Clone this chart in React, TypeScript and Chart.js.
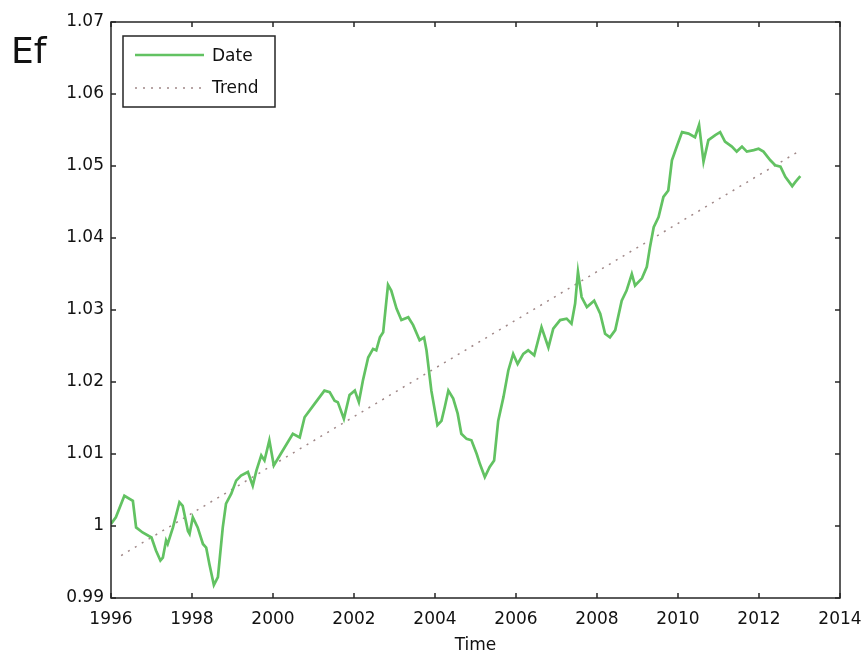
import React, { useEffect, useRef } from "react";
import { Chart, registerables } from "chart.js";

Chart.register(...registerables);

const dateX = [
  1996.0, 1996.12, 1996.33, 1996.54, 1996.62, 1996.78, 1997.0, 1997.11, 1997.22, 1997.28, 1997.36, 1997.4,
  1997.53, 1997.69, 1997.77, 1997.9, 1997.94, 1998.02, 1998.14, 1998.27, 1998.35, 1998.43, 1998.54, 1998.64,
  1998.76, 1998.84, 1998.97, 1999.09, 1999.21, 1999.38, 1999.5, 1999.59, 1999.71, 1999.79, 1999.91, 2000.02,
  2000.2, 2000.49, 2000.66, 2000.78, 2001.03, 2001.27, 2001.4, 2001.52, 2001.6, 2001.75, 2001.89, 2002.02,
  2002.12, 2002.22, 2002.35, 2002.47, 2002.55, 2002.64, 2002.72, 2002.84, 2002.92, 2003.05, 2003.17, 2003.34,
  2003.46, 2003.62, 2003.73, 2003.79, 2003.91, 2004.06, 2004.16, 2004.24, 2004.33, 2004.45, 2004.56, 2004.65,
  2004.78, 2004.9, 2005.03, 2005.11, 2005.23, 2005.35, 2005.46, 2005.56, 2005.69, 2005.81, 2005.93, 2006.04,
  2006.18, 2006.3, 2006.45, 2006.63, 2006.8, 2006.92, 2007.09, 2007.25, 2007.37, 2007.46, 2007.53, 2007.62,
  2007.75, 2007.93, 2008.08, 2008.2, 2008.32, 2008.45, 2008.61, 2008.73, 2008.86, 2008.94, 2009.11, 2009.23,
  2009.31, 2009.4, 2009.52, 2009.64, 2009.76, 2009.85, 2009.97, 2010.1, 2010.26, 2010.42, 2010.52, 2010.63,
  2010.75, 2010.92, 2011.04, 2011.16, 2011.33, 2011.45, 2011.58, 2011.7, 2011.87, 2011.99, 2012.11, 2012.28,
  2012.4, 2012.53, 2012.65, 2012.82, 2012.9, 2013.02,
];
const dateY = [
  1.0003, 1.0012, 1.0042, 1.0035, 0.9998, 0.9991, 0.9984, 0.9966, 0.9952, 0.9956, 0.998, 0.9975,
  0.9998, 1.0033, 1.0028, 0.9993, 0.9989, 1.0012, 0.9998, 0.9975, 0.997, 0.9947, 0.9918, 0.9929,
  0.9998, 1.0031, 1.0045, 1.0063, 1.007, 1.0075, 1.0056, 1.0077, 1.0098, 1.0091, 1.0119, 1.0084,
  1.0101, 1.0128, 1.0123, 1.0151, 1.017, 1.0188, 1.0186, 1.0174, 1.0172, 1.0149, 1.0182, 1.0188,
  1.0172, 1.0202, 1.0234, 1.0246, 1.0244, 1.0262, 1.0269, 1.0335, 1.0327, 1.0302, 1.0286, 1.029,
  1.0279, 1.0258, 1.0262, 1.0244, 1.0188, 1.014, 1.0146, 1.0165, 1.0188, 1.0177, 1.0156, 1.0128,
  1.0121, 1.0119, 1.01, 1.0086, 1.0068, 1.0082, 1.0091, 1.0146, 1.0179, 1.0216, 1.0239, 1.0225,
  1.0239, 1.0244, 1.0237, 1.0276, 1.0248, 1.0274, 1.0286, 1.0288, 1.0281, 1.0309, 1.0353, 1.0318,
  1.0304, 1.0313, 1.0295, 1.0267, 1.0262, 1.0272, 1.0313, 1.0327, 1.035, 1.0334, 1.0344, 1.036,
  1.0388, 1.0415, 1.0429, 1.0457, 1.0466, 1.0508, 1.0527, 1.0547, 1.0545, 1.054, 1.0557, 1.0506,
  1.0536, 1.0543, 1.0547, 1.0534, 1.0527, 1.052, 1.0527, 1.052, 1.0522, 1.0524, 1.052, 1.0508,
  1.0501, 1.0499, 1.0485, 1.0472, 1.0478, 1.0486,
];
const trendX = [1996.25, 2013.0];
const trendY = [0.9959, 1.0521];

const xTicks = [1996, 1998, 2000, 2002, 2004, 2006, 2008, 2010, 2012, 2014];
const yTicks = [0.99, 1.0, 1.01, 1.02, 1.03, 1.04, 1.05, 1.06, 1.07];
const legendLabels = ["Date", "Trend"];
const yAxisLabel = "Ef";
const xAxisLabel = "Time";

const GREEN = "#62c262";
const TREND = "#a08888";
const FONT = "'DejaVu Sans', sans-serif";

export default function App() {
  const ref = useRef<HTMLCanvasElement | null>(null);

  useEffect(() => {
    if (!ref.current) return;
    const deco = {
      id: "deco",
      afterDraw(chart: any) {
        const ctx = chart.ctx;
        const a = chart.chartArea;
        const xs = chart.scales.x;
        const ys = chart.scales.y;
        ctx.save();
        ctx.strokeStyle = "#262626";
        ctx.lineWidth = 1.5;
        ctx.strokeRect(a.left, a.top, a.right - a.left, a.bottom - a.top);
        const tl = 5;
        ctx.beginPath();
        xTicks.forEach((t) => {
          const px = xs.getPixelForValue(t);
          ctx.moveTo(px, a.bottom);
          ctx.lineTo(px, a.bottom - tl);
          ctx.moveTo(px, a.top);
          ctx.lineTo(px, a.top + tl);
        });
        yTicks.forEach((t) => {
          const py = ys.getPixelForValue(t);
          ctx.moveTo(a.left, py);
          ctx.lineTo(a.left + tl, py);
          ctx.moveTo(a.right, py);
          ctx.lineTo(a.right - tl, py);
        });
        ctx.stroke();

        // legend box
        const lx = 123, ly = 36, lw = 152, lh = 71;
        ctx.fillStyle = "#ffffff";
        ctx.fillRect(lx, ly, lw, lh);
        ctx.strokeStyle = "#262626";
        ctx.lineWidth = 1.5;
        ctx.strokeRect(lx, ly, lw, lh);
        ctx.strokeStyle = GREEN;
        ctx.lineWidth = 2.5;
        ctx.beginPath();
        ctx.moveTo(135, 55);
        ctx.lineTo(204, 55);
        ctx.stroke();
        ctx.strokeStyle = TREND;
        ctx.lineWidth = 1.5;
        ctx.setLineDash([2, 6]);
        ctx.beginPath();
        ctx.moveTo(135, 88);
        ctx.lineTo(206, 88);
        ctx.stroke();
        ctx.setLineDash([]);
        ctx.fillStyle = "#111111";
        ctx.font = "17px " + FONT;
        ctx.textAlign = "left";
        ctx.textBaseline = "middle";
        ctx.fillText(legendLabels[0], 212, 57);
        ctx.fillText(legendLabels[1], 212, 89);

        ctx.font = "36px " + FONT;
        ctx.fillText(yAxisLabel, 11, 54);

        ctx.font = "17px " + FONT;
        ctx.textAlign = "center";
        ctx.fillText(xAxisLabel, (a.left + a.right) / 2, 646);
        ctx.restore();
      },
    };

    const chart = new Chart(ref.current, {
      type: "line",
      data: {
        datasets: [
          {
            label: legendLabels[0],
            data: dateX.map((x, i) => ({ x, y: dateY[i] })),
            borderColor: GREEN,
            borderWidth: 2.7,
            pointRadius: 0,
            tension: 0,
            fill: false,
          },
          {
            label: legendLabels[1],
            data: trendX.map((x, i) => ({ x, y: trendY[i] })),
            borderColor: TREND,
            borderWidth: 1.5,
            borderDash: [2, 6],
            pointRadius: 0,
            fill: false,
          },
        ],
      },
      options: {
        animation: false,
        responsive: false,
        layout: { padding: { top: 22, right: 24, left: 0, bottom: 0 } },
        plugins: { legend: { display: false }, tooltip: { enabled: false } },
        scales: {
          x: {
            type: "linear",
            min: 1996,
            max: 2014,
            afterBuildTicks: (s: any) => {
              s.ticks = xTicks.map((v) => ({ value: v }));
            },
            afterFit: (s: any) => {
              s.height = 57;
              s.paddingLeft = 0;
              s.paddingRight = 0;
            },
            grid: { display: false, drawTicks: false },
            border: { display: false },
            ticks: {
              padding: 11,
              color: "#111111",
              font: { family: FONT, size: 17 },
              maxRotation: 0,
              autoSkip: false,
              callback: (v: any) => String(v),
            },
          },
          y: {
            type: "linear",
            min: 0.99,
            max: 1.07,
            afterBuildTicks: (s: any) => {
              s.ticks = yTicks.map((v) => ({ value: v }));
            },
            afterFit: (s: any) => {
              s.width = 111;
              s.paddingTop = 0;
              s.paddingBottom = 0;
            },
            grid: { display: false, drawTicks: false },
            border: { display: false },
            ticks: {
              padding: 7,
              color: "#111111",
              font: { family: FONT, size: 17 },
              autoSkip: false,
              callback: (v: any) => String(parseFloat(Number(v).toFixed(2))),
            },
          },
        },
      },
      plugins: [deco],
    } as any);
    return () => chart.destroy();
  }, []);

  return (
    <div style={{ position: "absolute", left: 0, top: 0, width: 864, height: 655, background: "#fff" }}>
      <canvas ref={ref} width={864} height={655} />
    </div>
  );
}
